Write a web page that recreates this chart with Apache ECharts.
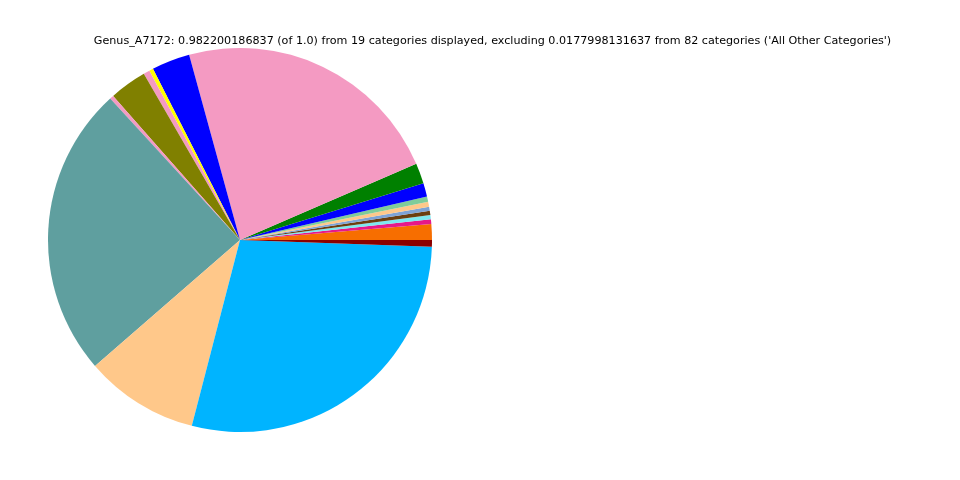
<!DOCTYPE html>
<html>
<head>
<meta charset="utf-8">
<script src="https://cdn.jsdelivr.net/npm/echarts@6/dist/echarts.min.js"></script>
<style>html,body{margin:0;padding:0;background:#fff;}#chart{width:960px;height:480px;}</style>
</head>
<body>
<div id="chart"></div>
<script>
const titleText = "Genus_A7172: 0.982200186837 (of 1.0) from 19 categories displayed, excluding 0.0177998131637 from 82 categories ('All Other Categories')";
const categories = ["Cat 1","Cat 2","Cat 3","Cat 4","Cat 5","Cat 6","Cat 7","Cat 8","Cat 9","Cat 10","Cat 11","Cat 12","Cat 13","Cat 14","Cat 15","Cat 16","Cat 17","Cat 18","Cat 19"];
const values = [0.0131,0.0038,0.0035,0.0035,0.0033,0.0041,0.0044,0.0112,0.0169,0.2237,0.0316,0.0033,0.0052,0.0308,0.0032,0.2413,0.0941,0.2797,0.0055];
const colors = ["#f76e00","#e6198a","#7ee8f0","#6b3e10","#7ea3d6","#ffc88a","#7fcc9a","#0000ff","#008000","#f49ac2","#0000ff","#ffff00","#f49ac2","#808000","#f49ac2","#5f9f9f","#ffc88a","#00b4ff","#8b0000"];

const chart = echarts.init(document.getElementById('chart'));
chart.setOption({
  animation: false,
  backgroundColor: '#ffffff',
  title: {
    text: titleText,
    left: 487.5, top: 31, textAlign: 'center',
    textStyle: {fontFamily: 'DejaVu Sans', fontSize: 11.15, fontWeight: 'normal', color: '#000'}
  },
  series: [{
    type: 'pie',
    center: [240, 240],
    radius: 192,
    startAngle: 0,
    clockwise: false,
    minAngle: 0,
    avoidLabelOverlap: false,
    label: {show: false},
    labelLine: {show: false},
    emphasis: {disabled: true},
    itemStyle: {borderWidth: 0},
    data: categories.map((c, i) => ({name: c, value: values[i], itemStyle: {color: colors[i]}}))
  }]
});
</script>
</body>
</html>
